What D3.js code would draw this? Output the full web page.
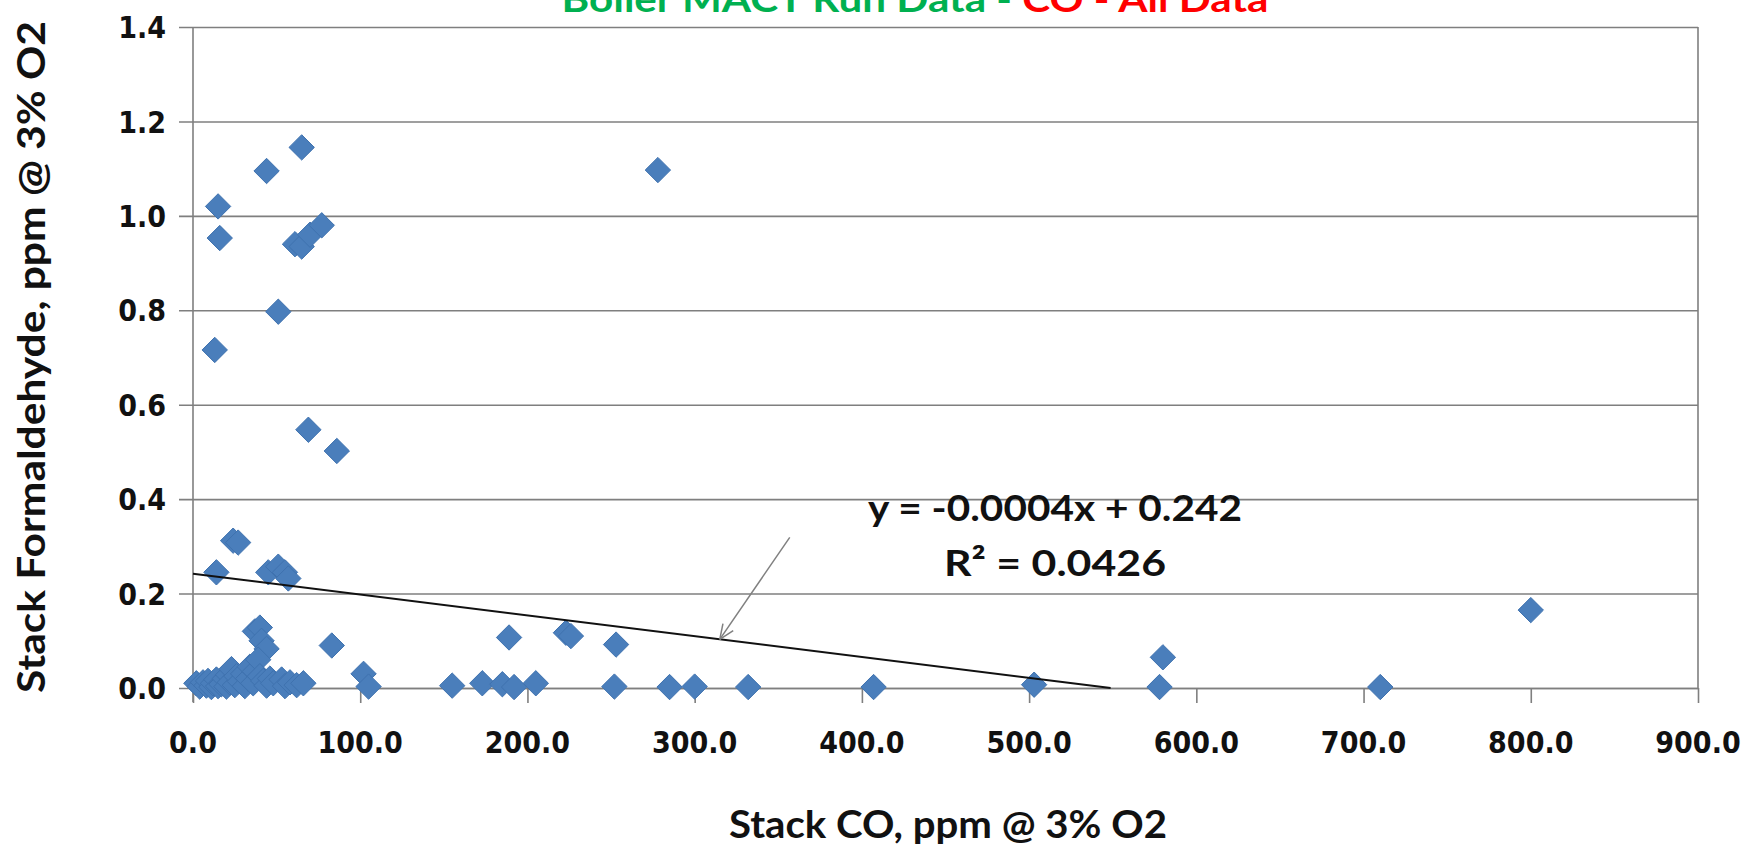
<!DOCTYPE html>
<html>
<head>
<meta charset="utf-8">
<script src="https://cdn.jsdelivr.net/npm/d3@7"></script>
<style>
  body { margin: 0; background: #fff; }
  text { font-family: Lato, "Open Sans", sans-serif; }
  .tick-label { font-family: "DejaVu Sans Condensed", "DejaVu Sans", Verdana, sans-serif; font-stretch: condensed; font-weight: bold; font-size: 30px; fill: #111; }
</style>
</head>
<body>
<script>
const [width, height] = [1760, 852];

// stack CO (ppm @ 3% O2) and formaldehyde (ppm @ 3% O2)
const coValues = [
  65, 44, 278, 15, 16, 61, 65, 70, 77, 51, 13, 69, 86,
  24, 27, 14, 45, 51, 55, 57, 37, 40, 41, 44, 83, 102, 105,
  155, 173, 185, 192, 205, 189, 223, 226, 253, 252, 285, 300, 332,
  407, 503, 578, 580, 710, 800,
  2, 4, 6, 8, 9, 11, 12, 14, 15, 17, 19, 20, 21, 22, 23, 25, 26, 28,
  30, 31, 33, 34, 36, 37, 39, 40, 42, 44, 46, 48, 53, 55, 58, 62, 66
];
const hchoValues = [
  1.145, 1.095, 1.097, 1.02, 0.953, 0.94, 0.935, 0.96, 0.98, 0.797, 0.716, 0.547, 0.502,
  0.312, 0.308, 0.245, 0.245, 0.257, 0.245, 0.232, 0.12, 0.128, 0.1, 0.083, 0.09, 0.03, 0.003,
  0.005, 0.01, 0.008, 0.002, 0.01, 0.107, 0.117, 0.11, 0.092, 0.003, 0.002, 0.003, 0.002,
  0.002, 0.007, 0.002, 0.065, 0.002, 0.165,
  0.01, 0.003, 0.012, 0.005, 0.015, 0.002, 0.01, 0.018, 0.004, 0.008, 0.02, 0.003, 0.028, 0.012, 0.04, 0.006, 0.025, 0.014,
  0.03, 0.004, 0.02, 0.045, 0.01, 0.035, 0.06, 0.025, 0.015, 0.005, 0.02, 0.01, 0.018, 0.004, 0.012, 0.006, 0.01
];

const xTicks = [0, 100, 200, 300, 400, 500, 600, 700, 800, 900];
const yTicks = [0, 0.2, 0.4, 0.6, 0.8, 1.0, 1.2, 1.4];

// linear trendline (Excel label rounds the slope)
const trendSlope = -0.000441;
const trendIntercept = 0.242;
const trendLabel = ['y = -0.0004x + 0.242', 'R² = 0.0426'];
const arrowAt = 315;

const titleParts = [
  {text: 'Boiler MACT Run Data - ', color: '#00B050'},
  {text: 'CO - All Data', color: '#FF0000'}
];
const xTitle = 'Stack CO, ppm @ 3% O2';
const yTitle = 'Stack Formaldehyde, ppm @ 3% O2';

const points = coValues.map((d, i) => ({x: d, y: hchoValues[i]}));

const svg = d3.select('body')
  .append('svg')
  .attr('width', width)
  .attr('height', height);

svg.append('rect')
  .attr('width', width)
  .attr('height', height)
  .attr('fill', '#fff');

const xScale = d3.scaleLinear()
  .domain([0, 900])
  .range([193, 1698]);
const yScale = d3.scaleLinear()
  .domain([0, 1.4])
  .range([688, 27]);

const gridColor = '#7f7f7f';
const plotW = xScale(900) - xScale(0);

// horizontal gridlines, poking out left as ticks
svg.append('g')
  .attr('class', 'grid')
  .attr('transform', `translate(${xScale(0)}, 0)`)
  .call(d3.axisLeft(yScale).tickValues(yTicks).tickSize(-plotW).tickFormat(''))
  .call(g => g.select('.domain').remove())
  .call(g => g.selectAll('line')
    .attr('x1', -14)
    .attr('x2', plotW)
    .attr('stroke', gridColor)
    .attr('stroke-width', 1.6));

// right border of the plot area
svg.append('line')
  .attr('x1', xScale(900)).attr('x2', xScale(900))
  .attr('y1', yScale(1.4)).attr('y2', yScale(0))
  .attr('stroke', gridColor)
  .attr('stroke-width', 1.6);

// y axis line
svg.append('line')
  .attr('x1', xScale(0)).attr('x2', xScale(0))
  .attr('y1', yScale(1.4)).attr('y2', yScale(0) + 14)
  .attr('stroke', gridColor)
  .attr('stroke-width', 1.6);

// x axis
const gx = svg.append('g')
  .attr('transform', `translate(0, ${yScale(0)})`)
  .call(d3.axisBottom(xScale).tickValues(xTicks).tickSize(15).tickSizeOuter(0).tickFormat(''));
gx.select('.domain').attr('stroke', gridColor).attr('stroke-width', 1.6);
gx.selectAll('line').attr('stroke', gridColor).attr('stroke-width', 1.6);

svg.append('g')
  .selectAll('text')
  .data(xTicks)
  .enter()
  .append('text')
  .attr('class', 'tick-label')
  .attr('x', d => xScale(d))
  .attr('y', yScale(0) + 65)
  .attr('text-anchor', 'middle')
  .text(d3.format('.1f'));

// y tick labels
svg.append('g')
  .selectAll('text')
  .data(yTicks)
  .enter()
  .append('text')
  .attr('class', 'tick-label')
  .attr('x', xScale(0) - 27)
  .attr('y', d => yScale(d))
  .attr('dy', '0.37em')
  .attr('text-anchor', 'end')
  .text(d3.format('.1f'));

// points
const diamond = d3.symbol().type(d3.symbolDiamond2).size(410);
svg.append('g')
  .attr('class', 'points')
  .selectAll('path')
  .data(points)
  .enter()
  .append('path')
  .attr('transform', d => `translate(${xScale(d.x)}, ${yScale(d.y)})`)
  .attr('d', diamond)
  .attr('fill', '#4A7EBB')
  .attr('stroke', '#3F72AF')
  .attr('stroke-width', 1);

// trendline, cut where it meets the x axis
const trendEnd = -trendIntercept / trendSlope;
const trend = x => trendIntercept + trendSlope * x;
svg.append('line')
  .attr('x1', xScale(0)).attr('y1', yScale(trend(0)))
  .attr('x2', xScale(trendEnd)).attr('y2', yScale(0))
  .attr('stroke', '#111')
  .attr('stroke-width', 2);

// leader arrow from the equation to the line
const headX = xScale(arrowAt);
const headY = yScale(trend(arrowAt));
const tailX = headX + 70;
const tailY = headY - 102;
svg.append('line')
  .attr('x1', tailX).attr('y1', tailY)
  .attr('x2', headX).attr('y2', headY)
  .attr('stroke', '#808080')
  .attr('stroke-width', 1.5);
const ang = Math.atan2(tailY - headY, tailX - headX);
[-0.4, 0.4].forEach(a => {
  svg.append('line')
    .attr('x1', headX).attr('y1', headY)
    .attr('x2', headX + 16 * Math.cos(ang + a))
    .attr('y2', headY + 16 * Math.sin(ang + a))
    .attr('stroke', '#808080')
    .attr('stroke-width', 1.5);
});

// equation label
svg.append('g')
  .selectAll('text')
  .data(trendLabel)
  .enter()
  .append('text')
  .attr('x', 1055)
  .attr('y', (d, i) => 521 + i * 55)
  .attr('text-anchor', 'middle')
  .attr('font-size', 37)
  .attr('font-weight', 'bold')
  .attr('fill', '#111')
  .attr('textLength', (d, i) => i === 0 ? 374 : 222)
  .attr('lengthAdjust', 'spacingAndGlyphs')
  .text(d => d);

// title (cropped at the top like the source)
const title = svg.append('text')
  .attr('x', 915)
  .attr('y', 12)
  .attr('text-anchor', 'middle')
  .attr('font-size', 37)
  .attr('font-weight', 'bold')
  .attr('textLength', 707)
  .attr('lengthAdjust', 'spacingAndGlyphs');
title.selectAll('tspan')
  .data(titleParts)
  .enter()
  .append('tspan')
  .attr('fill', d => d.color)
  .text(d => d.text);

// axis titles
svg.append('text')
  .attr('x', 948)
  .attr('y', 838)
  .attr('text-anchor', 'middle')
  .attr('font-size', 38)
  .attr('font-weight', 'bold')
  .attr('fill', '#111')
  .attr('textLength', 438)
  .attr('lengthAdjust', 'spacingAndGlyphs')
  .text(xTitle);

svg.append('text')
  .attr('transform', `translate(45, 357) rotate(-90)`)
  .attr('text-anchor', 'middle')
  .attr('font-size', 38)
  .attr('font-weight', 'bold')
  .attr('fill', '#111')
  .attr('textLength', 672)
  .attr('lengthAdjust', 'spacingAndGlyphs')
  .text(yTitle);
</script>
</body>
</html>
